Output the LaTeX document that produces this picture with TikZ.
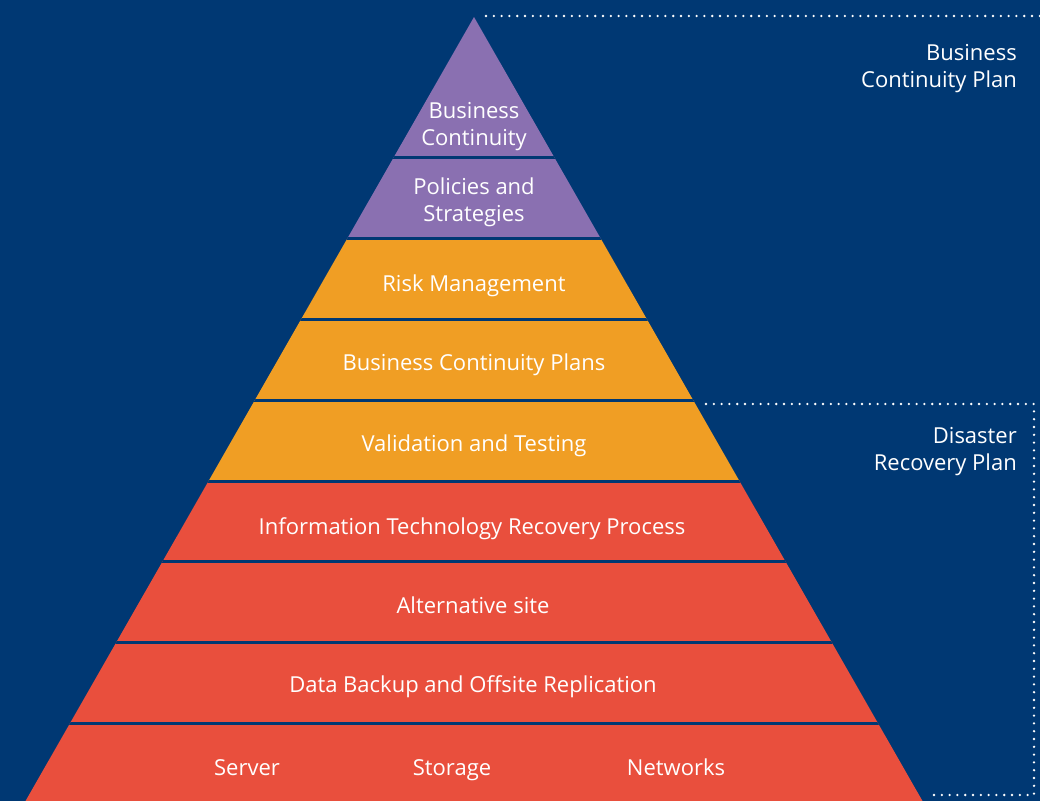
\documentclass[tikz,border=0pt]{standalone}
\usepackage{fontspec}
\setmainfont{Open Sans}
\definecolor{bg}{HTML}{003873}
\definecolor{purp}{HTML}{8A70B1}
\definecolor{orng}{HTML}{F09E24}
\definecolor{redl}{HTML}{E94F3D}
\begin{document}
\begin{tikzpicture}[x=1pt,y=-1pt,
  lbl/.style={text=white,font=\fontsize{22}{27}\selectfont,inner sep=0pt,anchor=base},
  side/.style={text=white,font=\fontsize{22}{27}\selectfont,inner sep=0pt,anchor=base east},
  dots/.style={white,line width=2.6pt,line cap=round,dash pattern=on 0pt off 7.8pt}]
\fill[bg] (0,0) rectangle (1040,801);
\useasboundingbox (0,0) rectangle (1040,801);
\begin{scope}
\clip (474,17) -- (922.5,801) -- (25.5,801) -- cycle;
\fill[purp] (0,0) rectangle (1040,238.5);
\fill[orng] (0,238.5) rectangle (1040,481);
\fill[redl] (0,481) rectangle (1040,801);
\foreach \yy in {157.5,238.5,319.5,400.5,481,561.5,642.5,723.5}
  \draw[bg,line width=3pt] (0,\yy) -- (1040,\yy);
\end{scope}
\node[lbl] (l1a) at (474,118.5) {Business};
\node[lbl] (l1b) at (474,145) {Continuity};
\node[lbl] (l2a) at (474,194.5) {Policies and};
\node[lbl] (l2b) at (474,221) {Strategies};
\node[lbl] (l3) at (474,291) {Risk Management};
\node[lbl] (l4) at (474,370) {Business Continuity Plans};
\node[lbl] (l5) at (474,451) {Validation and Testing};
\node[lbl] (l6) at (472,534) {Information Technology Recovery Process};
\node[lbl] (l7) at (473,613) {Alternative site};
\node[lbl] (l8) at (473,692) {Data Backup and Offsite Replication};
\node[lbl] (s1) at (247,775) {Server};
\node[lbl] (s2) at (452,775) {Storage};
\node[lbl] (s3) at (676,775) {Networks};
\node[side] (bcpa) at (1017,60) {Business};
\node[side] (bcpb) at (1017,87) {Continuity Plan};
\node[side] (drpa) at (1017,443) {Disaster};
\node[side] (drpb) at (1017,470) {Recovery Plan};
\coordinate (t1) at (486,16);
\coordinate (t2) at (1040,16);
\draw[dots] (t1) -- (t2);
\coordinate (d1) at (706,404);
\coordinate (d2) at (1034,404);
\coordinate (d3) at (1034,795);
\coordinate (d4) at (929,795);
\draw[dots] (d1) -- (d2) -- (d3) -- (d4);
\end{tikzpicture}
\end{document}
